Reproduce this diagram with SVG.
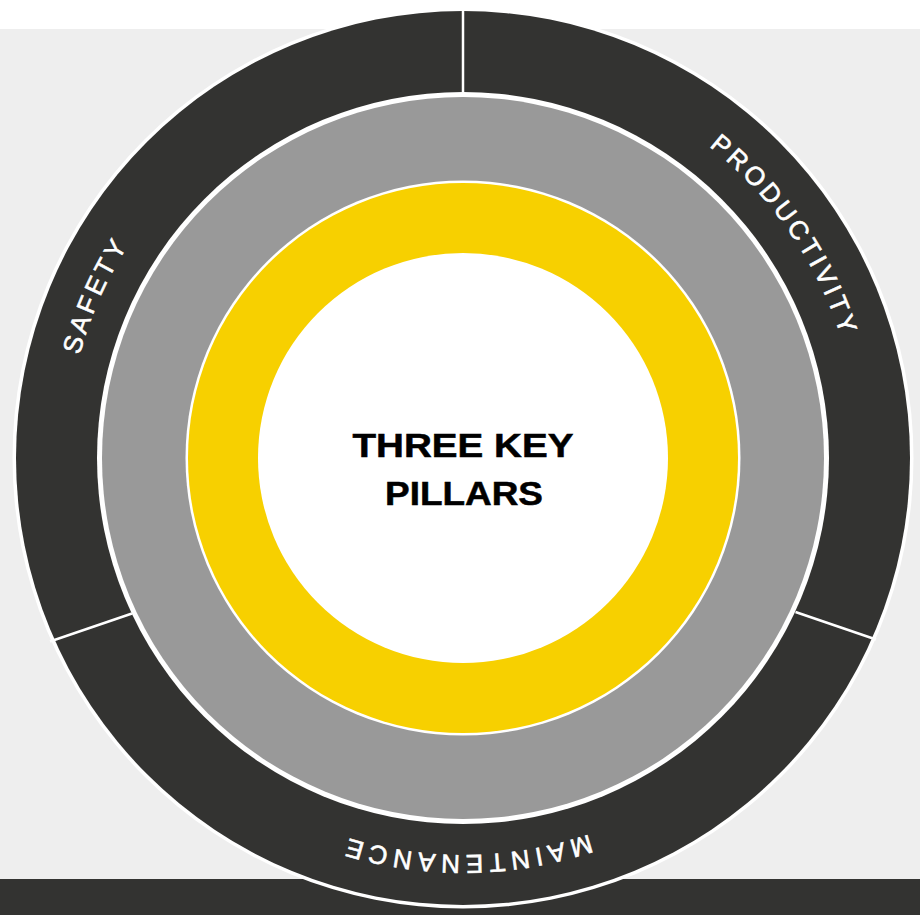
<svg xmlns="http://www.w3.org/2000/svg" width="920" height="915" viewBox="0 0 920 915">
  <style>
    .ring-label { font-family: "Liberation Sans", Arial, sans-serif; font-size: 26px; fill: #ffffff; stroke: #ffffff; stroke-width: 0.6; }
    .title { font-family: "Liberation Sans", Arial, sans-serif; font-size: 33px; font-weight: 700; fill: #000000; stroke: #000000; stroke-width: 0.5; }
    .divider { stroke: #ffffff; stroke-width: 2.5; fill: none; }
  </style>
  <defs>
    <path id="arcSafety" d="M143.9,694.1 A397,397 0 0 1 418.1,63.6"/>
    <path id="arcProd" d="M428.4,62.5 A397,397 0 0 1 822.8,625.8"/>
    <path id="arcMaint" d="M810.2,650.5 A397,397 0 0 1 122.7,662.5"/>
  </defs>

  <g id="background">
    <rect x="0" y="0" width="920" height="915" fill="#ffffff"/>
    <rect x="0" y="29" width="920" height="850" fill="#eeeeee"/>
    <rect x="0" y="879" width="920" height="36" fill="#333331"/>
  </g>

  <g id="outer-ring">
    <circle cx="463" cy="458" r="450.5" fill="#ffffff"/>
    <circle cx="463" cy="458" r="447" fill="#333331"/>
  </g>

  <g id="grey-ring">
    <circle cx="463" cy="458" r="366" fill="#ffffff"/>
    <circle cx="463" cy="458" r="361" fill="#999999"/>
  </g>

  <g id="yellow-ring">
    <circle cx="463" cy="458" r="277.5" fill="#ffffff"/>
    <circle cx="463" cy="458" r="275" fill="#f7d000"/>
  </g>

  <g id="center">
    <circle cx="463" cy="458" r="205" fill="#ffffff"/>
    <text class="title" x="463" y="457" text-anchor="middle" textLength="221" lengthAdjust="spacingAndGlyphs">THREE KEY</text>
    <text class="title" x="464" y="505" text-anchor="middle" textLength="158" lengthAdjust="spacingAndGlyphs">PILLARS</text>
  </g>

  <g id="connectors">
    <line class="divider" x1="463" y1="8" x2="463" y2="94"/>
    <line class="divider" x1="50" y1="641.5" x2="132" y2="613.5"/>
    <line class="divider" x1="795.5" y1="612" x2="876" y2="639.5"/>
  </g>

  <g id="safety">
    <text class="ring-label" letter-spacing="3.6"><textPath href="#arcSafety" startOffset="50.3%" text-anchor="middle">SAFETY</textPath></text>
  </g>
  <g id="productivity">
    <text class="ring-label" letter-spacing="3.6"><textPath href="#arcProd" startOffset="50.3%" text-anchor="middle">PRODUCTIVITY</textPath></text>
  </g>
  <g id="maintenance">
    <text class="ring-label" letter-spacing="5.5"><textPath href="#arcMaint" startOffset="50.4%" text-anchor="middle">MAINTENANCE</textPath></text>
  </g>
</svg>
